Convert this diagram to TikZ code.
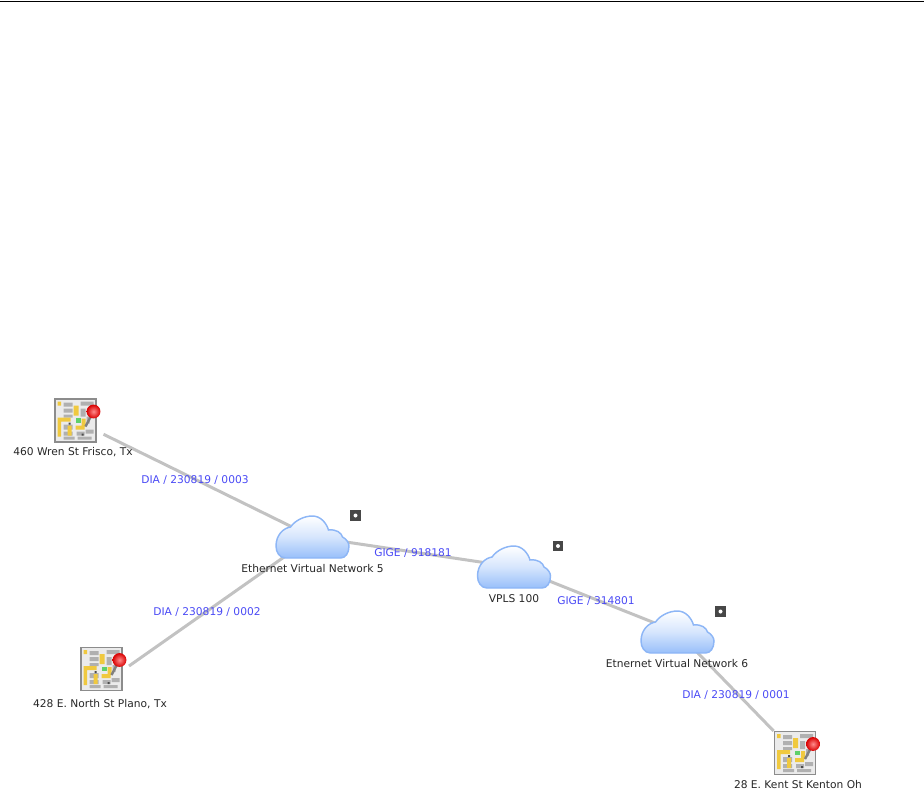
\documentclass[tikz,border=0pt]{standalone}
\usepackage{fontspec}
\setmainfont{DejaVu Sans}
\definecolor{linkgray}{HTML}{C2C2C2}
\definecolor{linkblue}{HTML}{4A4AF5}
\definecolor{cloudblue}{HTML}{98BFFA}
\definecolor{cloudline}{HTML}{8DB6F6}
\definecolor{mapframe}{HTML}{8C8C8C}
\definecolor{mapblock}{HTML}{B0B0B0}
\definecolor{mapyellow}{HTML}{F0C93F}
\definecolor{mapgreen}{HTML}{5FD06A}
\tikzset{
  mapnode/.style={minimum width=42pt, minimum height=33pt, inner sep=0pt, outer sep=0pt},
  cloudnode/.style={minimum size=18pt, inner sep=0pt, outer sep=0pt},
  expandnode/.style={minimum size=8pt, inner sep=0pt, fill=black!72},
  linkline/.style={linkgray, line width=2.25pt},
  sitelabel/.style={font=\fontsize{8}{10}\selectfont, text=black!85, inner sep=0pt},
  linklabel/.style={font=\fontsize{8}{10}\selectfont, text=linkblue, inner sep=0pt},
  mapicon/.pic={
    \draw[mapframe, fill=black!8, line width=1pt] (-20.5,-21.5) rectangle (20.5,21.5);
    \fill[mapblock] (-12,-18) rectangle (-3,-14) (-12,-12) rectangle (-3,-8) (-12,-6) rectangle (-3,-3)
      (-12,4) rectangle (-3,9) (-12,11) rectangle (-3,15) (-12,16) rectangle (-1,19)
      (5,-19) rectangle (18,-15) (5,-12) rectangle (10,-4) (11,-4) rectangle (14,3)
      (10,9) rectangle (18,13) (1,11) rectangle (9,15) (2,16) rectangle (16,19);
    \fill[mapyellow] (-18,-19) rectangle (-14.5,-15) (-18,-3) rectangle (-14.5,16)
      (-18,-3) rectangle (-5,1) (-2,-15) rectangle (3,-5) (0,5) rectangle (9,9)
      (6,-2) rectangle (10,6) (-8,5) rectangle (-4,15);
    \fill[mapgreen] (0,-2.5) rectangle (5,2);
    \fill[black!70] (-7,2) rectangle (-5,4) (6,13) rectangle (8,15);
    \draw[black!50, line width=1.8pt] (10,6) -- (18,-9);
    \shade[inner color=red!45!white, outer color=red!85!black] (18,-9) circle (5.2pt);
  },
  cloudicon/.pic={
    \draw[cloudline, line width=1.1pt, top color=white, bottom color=cloudblue, middle color=white!60!cloudblue]
      (-27,21) .. controls (-33,21) and (-36.5,15) .. (-36.5,9)
      .. controls (-36.5,-2) and (-29,-9) .. (-22,-10)
      .. controls (-17,-17) and (-8,-21) .. (0,-21)
      .. controls (8,-21) and (14,-14) .. (16,-7)
      .. controls (24,-8) and (29,-4) .. (30,0)
      .. controls (34,2) and (36.5,6) .. (36.5,9)
      .. controls (36.5,16) and (33,21) .. (28,21) -- cycle;
  },
}
\begin{document}
\begin{tikzpicture}[x=.75pt, y=-.75pt]
  \useasboundingbox (0,0) rectangle (924,808);

  % Top rule
  \draw[black, line width=.75pt] (0,1) -- (924,1);

  % Sites
  \node[mapnode] (mapA) at (75.5,420.5) {};
  \node[mapnode] (mapB) at (101.5,669) {};
  \node[mapnode] (mapC) at (795,753) {};
  \coordinate (mapBport) at (129,666);

  % Clouds
  \node[cloudnode] (netA) at (312.5,537) {};
  \node[cloudnode] (vpls) at (514,567) {};
  \node[cloudnode] (netB) at (677.5,632) {};

  % Links
  \draw[linkline] (mapA) -- (netA);
  \draw[linkline] (mapBport) -- (netA);
  \draw[linkline] (netA) -- (vpls);
  \draw[linkline] (vpls) -- (netB);
  \draw[linkline] (netB) -- (mapC);

  % Icons
  \pic at (mapA) {mapicon};
  \pic at (mapB) {mapicon};
  \pic at (mapC) {mapicon};
  \pic at (netA) {cloudicon};
  \pic at (vpls) {cloudicon};
  \pic at (netB) {cloudicon};

  % Expand buttons
  \node[expandnode] (expandA) at (355.5,515.5) {};
  \node[expandnode] (expandB) at (558,546) {};
  \node[expandnode] (expandC) at (720.5,611.5) {};
  \fill[white] (expandA) circle (1.5pt);
  \fill[white] (expandB) circle (1.5pt);
  \fill[white] (expandC) circle (1.5pt);

  % Site labels
  \node[sitelabel] (labelA) at (73,452) {460 Wren St Frisco, Tx};
  \node[sitelabel] (labelB) at (100,704) {428 E. North St Plano, Tx};
  \node[sitelabel] (labelC) at (798,785) {28 E. Kent St Kenton Oh};
  \node[sitelabel] (labelD) at (312.5,569) {Ethernet Virtual Network 5};
  \node[sitelabel] (labelE) at (514,599) {VPLS 100};
  \node[sitelabel] (labelF) at (677,664) {Etnernet Virtual Network 6};

  % Link labels
  \node[linklabel] (linkA) at (195,480) {DIA / 230819 / 0003};
  \node[linklabel] (linkB) at (207,612) {DIA / 230819 / 0002};
  \node[linklabel] (linkC) at (413,553) {GIGE / 918181};
  \node[linklabel] (linkD) at (596,601) {GIGE / 314801};
  \node[linklabel] (linkE) at (736,695) {DIA / 230819 / 0001};
\end{tikzpicture}
\end{document}
